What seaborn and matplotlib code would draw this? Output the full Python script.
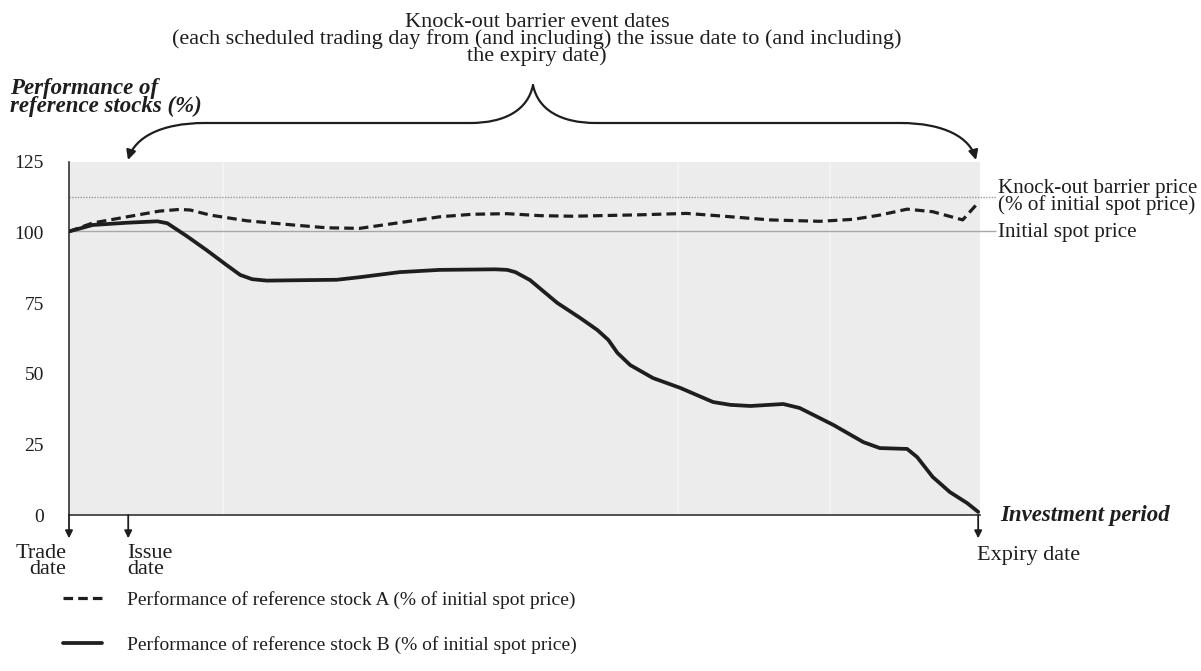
import matplotlib
matplotlib.use("Agg")
import matplotlib.pyplot as plt
from matplotlib.path import Path
from matplotlib.patches import FancyArrowPatch
import seaborn as sns
import pandas as pd

# investment period in % of elapsed time (trade date = 0, expiry = 100)
time_b = [0.0, 2.6, 6.4, 9.7, 10.8, 13.0, 15.1, 17.3, 18.8, 20.1, 21.7, 29.4, 31.9, 36.3,
          40.7, 46.8, 48.1, 49.0, 50.6, 53.6, 56.1, 58.0, 59.2, 60.2, 61.6, 64.1, 67.1,
          70.7, 72.6, 74.8, 78.4, 80.2, 83.9, 87.2, 89.0, 92.0, 93.1, 94.8, 96.7, 98.6, 99.8]
stock_b = [100.4, 102.7, 103.5, 104.0, 103.3, 98.6, 93.8, 88.5, 85.0, 83.5, 83.0, 83.3, 84.2, 86.0,
           86.8, 87.0, 86.8, 86.0, 83.2, 75.1, 69.8, 65.5, 62.0, 57.4, 53.1, 48.5, 45.0,
           40.0, 39.0, 38.6, 39.3, 37.9, 31.9, 25.8, 23.7, 23.4, 20.5, 13.5, 8.1, 4.2, 1.1]

time_a = [0.0, 2.6, 6.4, 9.9, 12.1, 13.3, 15.5, 19.5, 24.6, 28.3, 31.9, 37.1, 40.7, 44.3,
          48.1, 51.7, 55.3, 62.7, 67.8, 71.5, 76.9, 82.4, 86.1, 89.0, 92.0, 94.8, 98.1, 99.8]
stock_a = [100.4, 103.4, 105.6, 107.6, 108.2, 108.0, 106.2, 104.2, 102.7, 101.7, 101.5, 103.9, 105.6, 106.5,
           106.7, 106.0, 105.8, 106.3, 106.8, 105.9, 104.5, 104.0, 104.7, 106.2, 108.3, 107.4, 104.5, 110.6]

barrier_level = 112.5
initial_level = 100.7
issue_time = 6.5
expiry_time = 99.8
panel_edges = [16.9, 66.8, 83.5]
yticks = [0, 25, 50, 75, 100, 125]

label_a = "Performance of reference stock A (% of initial spot price)"
label_b = "Performance of reference stock B (% of initial spot price)"

df_a = pd.DataFrame({"t": time_a, "perf": stock_a})
df_b = pd.DataFrame({"t": time_b, "perf": stock_b})

sns.set_style("white")
plt.rcParams["font.family"] = ["Liberation Serif", "DejaVu Serif"]
plt.rcParams["font.size"] = 14

ink = "#1e1e1e"
W, H = 1201, 671
fig = plt.figure(figsize=(W / 100, H / 100), dpi=100)
ax = fig.add_axes([69 / W, 1 - 515 / H, (980 - 69) / W, (515 - 162) / H])
ax.set_facecolor("#ececec")

for e in panel_edges:
    ax.axvline(e, color="#f3f3f3", lw=1.5, zorder=1)

ax.hlines(barrier_level, 0, 101.8, colors="#9a9a9a", linestyles=(0, (1, 1)), lw=1.0, clip_on=False, zorder=2)
ax.hlines(initial_level, 0, 101.8, colors="#a8a8a8", lw=1.0, clip_on=False, zorder=2)

sns.lineplot(data=df_a, x="t", y="perf", ax=ax, color=ink, lw=2.3, linestyle=(0, (3.0, 1.6)),
             label=label_a, sort=False, zorder=4)
sns.lineplot(data=df_b, x="t", y="perf", ax=ax, color=ink, lw=2.7, label=label_b,
             sort=False, zorder=5)

ax.set_xlim(0, 100)
ax.set_ylim(0, 125)
ax.set_xticks([])
ax.set_yticks(yticks)
ax.set_xlabel("")
ax.set_ylabel("")
for s in ["top", "right"]:
    ax.spines[s].set_visible(False)
for s in ["left", "bottom"]:
    ax.spines[s].set_color("#333333")
    ax.spines[s].set_linewidth(1.2)
ax.tick_params(axis="y", direction="out", length=4, width=1, color="#333333",
               labelsize=14, pad=14, labelcolor=ink)

# labels at the right of the reference lines
ax.text(102.0, barrier_level, "Knock-out barrier price\n(% of initial spot price)",
        va="center", ha="left", fontsize=15.2, linespacing=0.82, color=ink)
ax.text(102.0, initial_level - 0.8, "Initial spot price", va="center", ha="left",
        fontsize=15.2, color=ink)

# date arrows below the axis
xt = ax.get_xaxis_transform()
for t in [0, issue_time, expiry_time]:
    ax.annotate("", xy=(t, -0.066), xycoords=xt, xytext=(t, 0), textcoords=xt,
                arrowprops=dict(arrowstyle="-|>", color=ink, lw=1.3, mutation_scale=11,
                                shrinkA=0, shrinkB=0), annotation_clip=False)
ax.text(-0.3, -0.083, "Trade\ndate", transform=xt, ha="right", va="top",
        multialignment="right", linespacing=0.8, fontsize=16, color=ink)
ax.text(issue_time - 0.1, -0.083, "Issue\ndate", transform=xt, ha="left", va="top",
        linespacing=0.8, fontsize=16, color=ink)
ax.text(expiry_time - 0.1, -0.088, "Expiry date", transform=xt, ha="left", va="top",
        fontsize=16, color=ink)
ax.text(1.022, 0.0, "Investment period", transform=ax.transAxes, ha="left", va="center",
        fontsize=16.5, fontweight="bold", fontstyle="italic", color=ink)

# titles
fig.text(10 / W, 1 - 78 / H, "Performance of\nreference stocks (%)", ha="left", va="top",
         fontsize=16.5, fontweight="bold", fontstyle="italic", linespacing=0.82, color=ink)
fig.text(537 / W, 1 - 13 / H,
         "Knock-out barrier event dates\n(each scheduled trading day from (and including) the issue date to (and including)\nthe expiry date)",
         ha="center", va="top", fontsize=16, linespacing=0.82, color=ink)

# brace with arrows (overlay in pixel coords)
ov = fig.add_axes([0, 0, 1, 1], zorder=10)
ov.set_xlim(0, W)
ov.set_ylim(H, 0)
ov.axis("off")
ov.patch.set_alpha(0)
C4, L2, M = Path.CURVE4, Path.LINETO, Path.MOVETO
left = Path([(533, 85), (528, 110), (505, 123), (470, 123), (205, 123),
             (160, 123), (135, 138), (128, 160)],
            [M, C4, C4, C4, L2, C4, C4, C4])
right = Path([(533, 85), (538, 110), (561, 123), (596, 123), (900, 123),
              (945, 123), (970, 138), (976, 160)],
             [M, C4, C4, C4, L2, C4, C4, C4])
for p in [left, right]:
    ov.add_patch(FancyArrowPatch(path=p, arrowstyle="-|>", mutation_scale=14,
                                 color=ink, lw=1.6))

ax.legend(loc="upper left", bbox_to_anchor=(63 / W, 1 - 591 / H), bbox_transform=fig.transFigure,
          frameon=False, fontsize=14, handlelength=2.0, handletextpad=1.3,
          labelspacing=1.4, borderpad=0, borderaxespad=0, labelcolor=ink)

fig.savefig("out.png", dpi=100)
